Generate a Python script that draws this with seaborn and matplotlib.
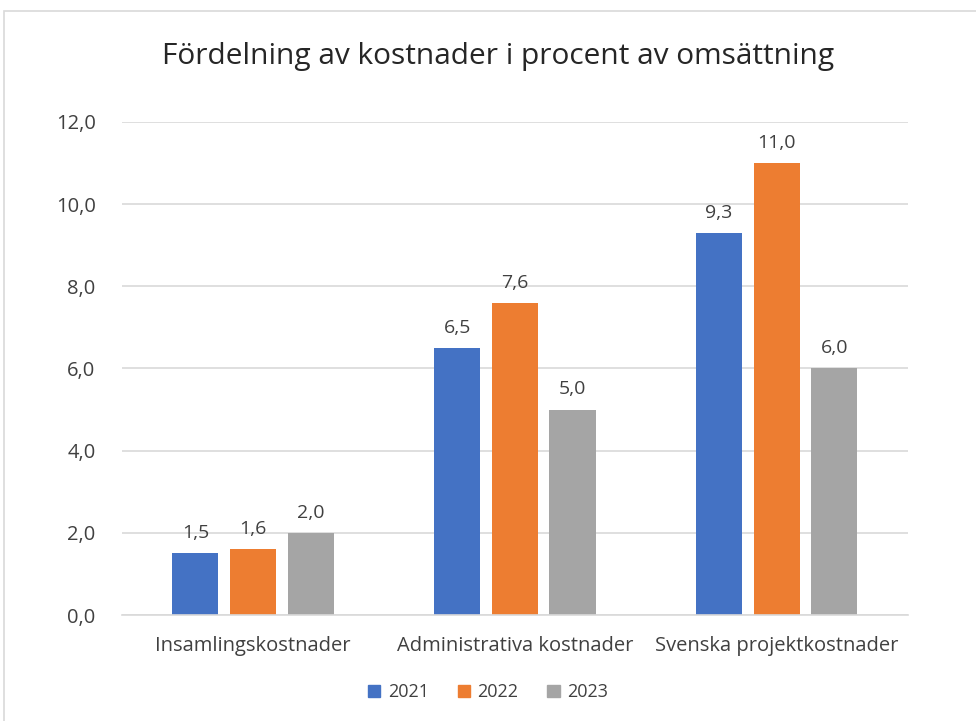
import matplotlib
matplotlib.use("Agg")
import matplotlib.pyplot as plt
import matplotlib.patches as mpatches
import pandas as pd
import seaborn as sns

# data
categories = ["Insamlingskostnader", "Administrativa kostnader", "Svenska projektkostnader"]
years = ["2021", "2022", "2023"]
values_2021 = [1.5, 6.5, 9.3]
values_2022 = [1.6, 7.6, 11.0]
values_2023 = [2.0, 5.0, 6.0]
colors = ["#4472C4", "#ED7D31", "#A5A5A5"]

df = pd.DataFrame({
    "kategori": categories * 3,
    "år": [y for y in years for _ in categories],
    "värde": values_2021 + values_2022 + values_2023,
})

sns.set_theme(style="white")
plt.rcParams["font.family"] = ["Open Sans", "DejaVu Sans"]

fig = plt.figure(figsize=(9.76, 7.21), dpi=100)
ax = fig.add_axes([0.125, 0.147, 0.805, 0.684])

sns.barplot(data=df, x="kategori", y="värde", hue="år", palette=colors,
            width=0.66, gap=0.2, ax=ax, legend=False, saturation=1, linewidth=0)

# data labels with decimal comma
for cont in ax.containers:
    ax.bar_label(cont, labels=[f"{v:.1f}".replace(".", ",") for v in cont.datavalues],
                 padding=8, fontsize=14, color="#404040")

ax.set_ylim(0, 12)
ax.set_yticks([0, 2, 4, 6, 8, 10, 12])
ax.set_yticklabels([f"{t:.1f}".replace(".", ",") for t in [0, 2, 4, 6, 8, 10, 12]])
ax.yaxis.grid(True, color="#D9D9D9", linewidth=1.2)
ax.set_axisbelow(True)
for s in ["top", "right", "left"]:
    ax.spines[s].set_visible(False)
ax.spines["bottom"].set_color("#D9D9D9")
ax.spines["bottom"].set_linewidth(1.2)
ax.tick_params(axis="both", length=0, labelsize=14.5, labelcolor="#404040")
ax.tick_params(axis="x", pad=15)
ax.tick_params(axis="y", pad=19)
ax.set_xlabel("")
ax.set_ylabel("")
ax.set_xlim(-0.5, 2.5)

fig.suptitle("Fördelning av kostnader i procent av omsättning",
             x=0.51, y=0.942, fontsize=21.5, color="#262626")

handles = [mpatches.Patch(color=c, label=y) for c, y in zip(colors, years)]
fig.legend(handles=handles, loc="center", bbox_to_anchor=(0.5, 0.04), ncol=3,
           frameon=False, fontsize=13, handlelength=0.7, handleheight=0.7,
           handletextpad=0.4, columnspacing=1.6, labelcolor="#404040")

# light frame around the chart area (cropped at right and bottom)
fig.patches.append(mpatches.Rectangle((0.004, -0.1), 1.2, 1.085, transform=fig.transFigure,
                                      fill=False, edgecolor="#D9D9D9", linewidth=1.2))

fig.savefig("out.png", dpi=100)
